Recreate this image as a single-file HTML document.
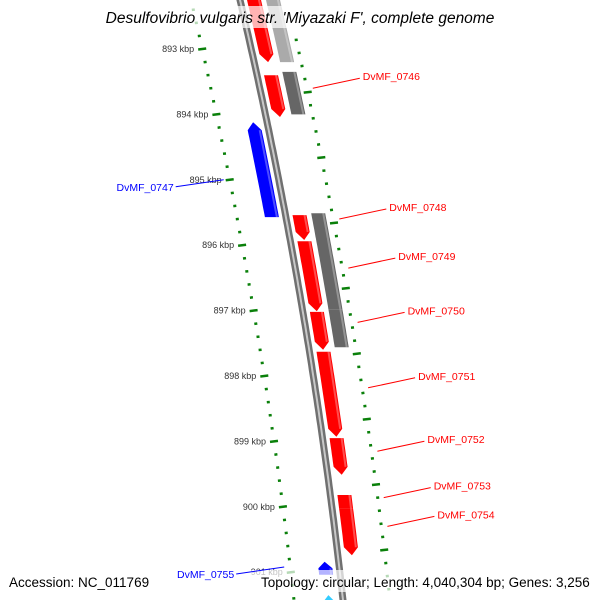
<!DOCTYPE html>
<html><head><meta charset="utf-8"><style>
html,body{margin:0;padding:0;background:#fff;width:600px;height:600px;overflow:hidden;}
svg{display:block;font-family:"Liberation Sans",sans-serif;}
</style></head><body>
<svg id="map" width="600" height="600" viewBox="0 0 600 600">
<g id="ticks"></g>
<g id="backbone"></g>
<g id="genes"></g>
<rect x="100" y="6" width="400" height="22" fill="#fff" fill-opacity="0.7"/>
<text x="300" y="23" text-anchor="middle" font-size="15.5" font-style="italic" fill="#000">Desulfovibrio vulgaris str. 'Miyazaki F', complete genome</text>
<rect x="0" y="570" width="600" height="22" fill="#fff" fill-opacity="0.7"/>
<g id="labels"></g>
<text x="9" y="587" font-size="13.5" fill="#000">Accession: NC_011769</text>
<text x="261" y="587" font-size="13.5" fill="#000">Topology: circular; Length: 4,040,304 bp; Genes: 3,256</text>
</svg>
<script>
// data (kbp)
const fwdStarts = [892.10, 893.40, 895.54, 895.94, 897.02, 897.63, 898.95, 899.82, 900.02];
const fwdEnds   = [893.20, 894.04, 895.92, 897.01, 897.60, 898.93, 899.51, 900.02, 900.74];
const grayStarts = [892.10, 893.35, 895.51, 895.89, 896.98];
const grayEnds   = [893.20, 894.00, 895.89, 896.98, 897.56];
const revStarts = [894.12, 900.84, 901.35];
const revEnds   = [895.57, 901.04, 901.70];
const tickKbp = [893, 894, 895, 896, 897, 898, 899, 900, 901];
const tickLabels = ["893 kbp","894 kbp","895 kbp","896 kbp","897 kbp","898 kbp","899 kbp","900 kbp","901 kbp"];
const fwdLabels = ["DvMF_0746","DvMF_0748","DvMF_0749","DvMF_0750","DvMF_0751","DvMF_0752","DvMF_0753","DvMF_0754"];
const fwdLabelKbp = [893.60, 895.60, 896.35, 897.18, 898.18, 899.15, 899.86, 900.30];
const revLabels = ["DvMF_0747","DvMF_0755"];
const revLabelKbp = [895.00, 900.92];

const NS="http://www.w3.org/2000/svg";
function yOf(k){return 49+(k-893)*65.4;}
function bx(y){return 240+0.234*y-1.04e-4*y*y;}
function px(y,off){return bx(y)+off;}
function mk(tag,attrs,parent){const e=document.createElementNS(NS,tag);for(const k in attrs)e.setAttribute(k,attrs[k]);parent.appendChild(e);return e;}

const bb=document.getElementById('backbone');
let pts=[];for(let y=-5;y<=605;y+=5)pts.push(px(y,0).toFixed(1)+','+y);
const bl1=mk('polyline',{points:pts.join(' '),fill:'none',stroke:'#707070','stroke-width':7},bb);


const bl2=mk('polyline',{points:pts.join(' '),fill:'none',stroke:'#c8c8c8','stroke-width':2},bb);



const tg=document.getElementById('ticks');
function dash(k,off,len,w){
  const y=yOf(k),x=px(y,off);
  return mk('line',{x1:(x-len/2).toFixed(1),y1:(y+len*0.06).toFixed(1),x2:(x+len/2).toFixed(1),y2:(y-len*0.06).toFixed(1),stroke:'#0a800a','stroke-width':w},tg);
}
for(let k=892.2;k<=901.8;k+=0.2){
  const isMaj=Math.abs(k-Math.round(k))<0.01;
  const d=dash(k,-49,isMaj?8:3,2.5);
  
  
  const d2=dash(k+0.66,47,isMaj?8:3,2.5);
  
  
}
tickKbp.forEach((k,i)=>{
  const y=yOf(k),x=px(y,-49);
  const t=mk('text',{x:(x-8).toFixed(1),y:(y+3).toFixed(1),'text-anchor':'end','font-size':9,fill:'#333'},tg);
  t.textContent=tickLabels[i];
  
  
});

const gg=document.getElementById('genes');
function feature(s,e,off,w,fill,dir,arrow,name){
  const y0=yOf(s),y1=yOf(e),head=arrow?Math.min(8,(y1-y0)*0.5):0;
  const L=[],R=[];
  if(dir>0){
    const ye=y1-head;
    for(let y=y0;y<ye;y+=4){L.push([px(y,off-w/2),y]);R.push([px(y,off+w/2),y]);}
    L.push([px(ye,off-w/2),ye]);R.push([px(ye,off+w/2),ye]);
    const poly=L.concat([[px(y1,off),y1]]).concat(R.reverse());
    return draw(poly,fill,name,off,w,y0,ye);
  } else {
    const ys=y0+head;
    for(let y=ys;y<y1;y+=4){L.push([px(y,off-w/2),y]);R.push([px(y,off+w/2),y]);}
    L.push([px(y1,off-w/2),y1]);R.push([px(y1,off+w/2),y1]);
    const poly=[[px(y0,off),y0]].concat(R).concat(L.reverse());
    return draw(poly,fill,name,off,w,ys,y1);
  }
}
function draw(poly,fill,name,off,w,ya,yb){
  const p=mk('polygon',{points:poly.map(a=>a[0].toFixed(1)+','+a[1].toFixed(1)).join(' '),fill:fill},gg);
  
  
  const hl=mk('line',{x1:px(ya,off+w/2-2).toFixed(1),y1:ya.toFixed(1),x2:px(yb,off+w/2-2).toFixed(1),y2:yb.toFixed(1),stroke:'#fff','stroke-opacity':0.3,'stroke-width':2},gg);
  
  
  return p;
}
fwdStarts.forEach((s,i)=>feature(s,fwdEnds[i],14,14,'#ff0000',1,i!==7,'forward-gene'));
grayStarts.forEach((s,i)=>feature(s,grayEnds[i],33,14,i===0?'#aaaaaa':'#666666',1,false,'gray-feature'));
revStarts.forEach((s,i)=>feature(s,revEnds[i],-14,14,i===2?'#33ccff':'#0000ff',-1,true,'reverse-gene'));

const lg=document.getElementById('labels');
fwdLabels.forEach((n,i)=>{
  const y=yOf(fwdLabelKbp[i]),x=px(y,53);
  const ln=mk('line',{x1:x.toFixed(1),y1:y.toFixed(1),x2:(x+47).toFixed(1),y2:(y-10).toFixed(1),stroke:'#ff0000','stroke-width':1},lg);
  
  
  const t=mk('text',{x:(x+50).toFixed(1),y:(y-8).toFixed(1),'font-size':10.5,fill:'#ff0000'},lg);
  t.textContent=n;
  
  
});
revLabels.forEach((n,i)=>{
  const y=yOf(revLabelKbp[i]),x=px(y,-55);
  const ln=mk('line',{x1:x.toFixed(1),y1:y.toFixed(1),x2:(x-48).toFixed(1),y2:(y+7).toFixed(1),stroke:'#0000ff','stroke-width':1},lg);
  
  
  const t=mk('text',{x:(x-50).toFixed(1),y:(y+11).toFixed(1),'text-anchor':'end','font-size':10.5,fill:'#0000ff'},lg);
  t.textContent=n;
  
  
});
</script>
</body></html>
